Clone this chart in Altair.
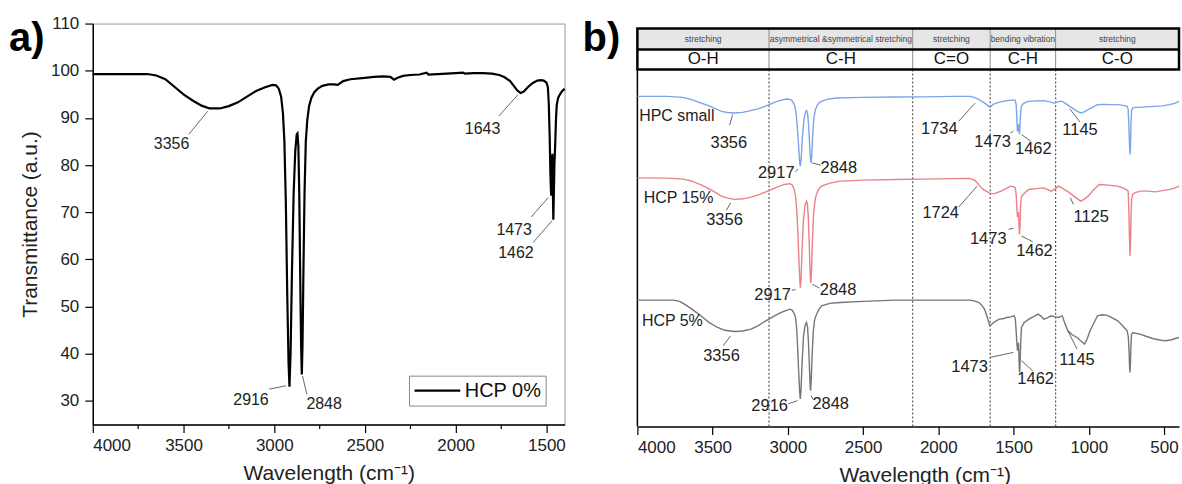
import altair as alt
import pandas as pd

FONT = "Liberation Sans"

# ---------------- Panel a: HCP 0% ----------------
a_wn = [4000, 3900, 3800, 3700, 3650, 3600, 3550, 3500, 3450, 3400, 3356, 3300, 3250, 3200,
        3150, 3100, 3050, 3010, 2990, 2975, 2962, 2952, 2944, 2936, 2928, 2921, 2916, 2910,
        2902, 2893, 2884, 2876, 2872, 2867, 2862, 2857, 2852, 2848, 2844, 2839, 2833, 2826,
        2818, 2808, 2795, 2780, 2760, 2735, 2700, 2670, 2650, 2620, 2580, 2500, 2450, 2400,
        2360, 2340, 2320, 2290, 2250, 2200, 2160, 2150, 2100, 2000, 1960, 1950, 1900, 1850,
        1800, 1760, 1730, 1700, 1680, 1660, 1643, 1625, 1600, 1575, 1550, 1530, 1515, 1500,
        1492, 1487, 1482, 1478, 1475, 1473, 1470, 1467, 1465, 1462, 1459, 1456, 1452, 1447,
        1443, 1435, 1425, 1415, 1400]
a_tr = [99.3, 99.3, 99.3, 99.3, 99.0, 98.2, 96.6, 95.0, 93.7, 92.6, 92.0, 92.0, 92.5, 93.3,
        94.5, 95.7, 96.5, 97.0, 96.9, 96.2, 94.5, 91.0, 85.0, 72.0, 52.0, 38.0, 33.0, 40.0,
        58.0, 74.0, 83.0, 86.5, 86.7, 84.0, 74.0, 57.0, 42.0, 35.6, 42.0, 58.0, 74.0, 85.0,
        89.5, 92.5, 94.3, 95.4, 96.2, 96.8, 97.1, 97.1, 97.0, 97.8, 98.2, 98.5, 98.7, 98.8,
        98.7, 98.1, 98.5, 98.9, 99.1, 99.2, 99.6, 99.2, 99.3, 99.5, 99.6, 99.4, 99.5, 99.5,
        99.4, 99.1, 98.6, 97.8, 96.8, 95.8, 95.3, 95.6, 96.6, 97.4, 97.9, 98.0, 97.9, 97.5,
        96.5, 93.0, 86.0, 78.0, 74.5, 73.5, 79.0, 82.4, 76.0, 68.4, 74.0, 80.0, 84.0, 90.0,
        92.8, 94.3, 95.0, 95.6, 96.2]

a_labels = ["3356", "2916", "2848", "1643", "1473", "1462"]
a_label_wn = [3566, 3128, 2725, 1852, 1678, 1668]
a_label_tr = [84.4, 30.3, 29.3, 87.7, 66.2, 61.3]
a_lead_wn1 = [3367, 2936, 2844, 1657, 1490, 1469]
a_lead_tr1 = [91.4, 33.2, 35.3, 94.9, 73.1, 68.2]
a_lead_wn2 = [3471, 3028, 2820, 1762, 1584, 1573]
a_lead_tr2 = [86.5, 32.5, 31.4, 90.4, 69.0, 63.6]

# ---------------- Panel b: three spectra (arbitrary offset units) ----------------
hpc_wn = [4000, 3800, 3700, 3638, 3580, 3515, 3441, 3400, 3356, 3300, 3269, 3200, 3170, 3120,
          3072, 3010, 2985, 2970, 2955, 2945, 2937, 2928, 2920, 2917, 2912, 2903, 2893, 2882,
          2875, 2868, 2861, 2855, 2850, 2846, 2841, 2835, 2827, 2818, 2805, 2790, 2776, 2740,
          2678, 2500, 2284, 2100, 1900, 1792, 1760, 1742, 1720, 1700, 1680, 1665, 1656, 1645,
          1632, 1600, 1545, 1500, 1488, 1482, 1477, 1474, 1472, 1468, 1465, 1462, 1458, 1454,
          1449, 1440, 1420, 1398, 1350, 1299, 1260, 1230, 1213, 1190, 1176, 1150, 1127, 1100,
          1075, 1053, 1030, 1004, 975, 942, 900, 850, 807, 770, 745, 738, 734, 731, 728, 725,
          722, 719, 715, 708, 690, 659, 620, 561, 510, 462, 430, 400]
hpc_val = [331, 331, 330, 327.7, 324.5, 321, 316, 314.8, 314.3, 315, 316, 318.5, 320, 323,
           326, 328.3, 328, 326.5, 322, 314, 300, 280, 263, 261, 268, 290, 308, 315.5,
           316.7, 313, 300, 282, 268, 264.3, 272, 292, 309, 317, 322, 325, 326, 328,
           329.3, 330, 330.3, 330.5, 331, 331, 330, 328.7, 327, 325, 323, 321, 320, 321.5,
           323.3, 325, 326.7, 327.5, 327, 322, 305, 296, 298, 303, 300, 293, 298, 312,
           320.5, 323, 325, 326, 326.5, 326.7, 325.5, 324.3, 325, 326, 326, 323.5, 321, 318.5,
           316, 314.3, 315.5, 317.7, 320, 322.7, 323, 322.7, 322.7, 322, 321, 318, 305, 290, 280, 272.7,
           282, 305, 317, 319.3, 320, 320, 320.5, 321, 321.5, 322.7, 324, 326]

h15_wn = [4000, 3800, 3700, 3638, 3580, 3515, 3441, 3400, 3355, 3300, 3244, 3200, 3146, 3080,
          3023, 2985, 2970, 2958, 2948, 2940, 2932, 2925, 2919, 2917, 2913, 2906, 2897, 2886,
          2876, 2870, 2864, 2858, 2853, 2849, 2847, 2843, 2837, 2829, 2820, 2810, 2795, 2776,
          2720, 2653, 2500, 2284, 2100, 1900, 1792, 1760, 1742, 1720, 1700, 1681, 1660, 1632,
          1610, 1582, 1550, 1521, 1500, 1488, 1482, 1478, 1474, 1471, 1467, 1464, 1461, 1457,
          1453, 1448, 1435, 1420, 1398, 1350, 1299, 1250, 1225, 1201, 1170, 1127, 1090, 1053,
          1030, 1004, 970, 930, 870, 807, 770, 745, 738, 733, 730, 727, 726, 722, 719, 715,
          708, 690, 659, 600, 561, 510, 462, 430, 400]
h15_val = [249.3, 249, 248, 246, 242.5, 237.7, 231, 229, 227.7, 228.3, 230, 232, 235.3, 239.5,
           242.7, 243.5, 242, 238, 230, 215, 190, 162, 143, 139.3, 146, 175, 205, 222,
           226, 223, 210, 185, 160, 145, 144.3, 155, 185, 213, 226, 233, 238, 241,
           244, 246, 247, 247.7, 248, 248.5, 248.7, 247, 244.3, 240.5, 237.5, 236, 234, 233.3,
           234.5, 236, 238.5, 241, 240.5, 239.3, 232, 220, 210, 212, 215, 205, 192.7, 200,
           220, 230, 232.7, 235, 237.7, 238.5, 239.3, 236, 238, 241, 238.5, 234.3, 230, 226,
           228, 231, 237, 242.7, 242, 241, 239, 237, 236, 215, 195, 178, 171, 185, 210, 228,
           232.7, 234.5, 236, 236, 235.3, 236.5, 237.7, 239, 241]

h5_wn = [4000, 3800, 3761, 3720, 3687, 3640, 3600, 3564, 3520, 3466, 3420, 3355, 3300, 3244,
         3200, 3146, 3100, 3047, 3010, 2986, 2970, 2960, 2950, 2942, 2935, 2928, 2921, 2917,
         2912, 2905, 2896, 2886, 2876, 2869, 2863, 2857, 2852, 2849, 2845, 2839, 2831, 2822,
         2813, 2795, 2776, 2720, 2653, 2500, 2284, 2000, 1792, 1760, 1730, 1710, 1693, 1675,
         1662, 1656, 1645, 1632, 1615, 1595, 1570, 1545, 1520, 1496, 1488, 1482, 1477, 1473,
         1470, 1467, 1464, 1461, 1459, 1456, 1452, 1447, 1430, 1398, 1370, 1336, 1315, 1299,
         1275, 1250, 1225, 1201, 1186, 1176, 1160, 1139, 1110, 1078, 1050, 1028, 1010, 991,
         965, 942, 910, 880, 850, 807, 775, 745, 737, 732, 729, 726, 723, 720, 716, 708,
         690, 659, 620, 580, 561, 520, 487, 450, 420, 400]
h5_val = [126.7, 126.7, 126.7, 125.5, 122.7, 118, 113.5, 109.3, 104, 99.3, 96.5, 95.3, 95.8, 97.7,
          101, 106, 110, 114.3, 116.5, 117.7, 116.5, 114, 110, 100, 80, 55, 34, 27.7,
          38, 65, 90, 101, 104.3, 100, 85, 62, 42, 36, 45, 70, 95, 107,
          111, 117, 121, 123.5, 124.3, 125.5, 126.7, 126.7, 126.7, 126, 124.3, 121.5, 117.7, 110,
          103, 101, 102.5, 104.3, 106, 107.7, 108, 109.3, 110, 111, 108, 95, 82, 76,
          80, 84, 72, 56, 54.3, 65, 85, 99.3, 104, 107.7, 110, 112.7, 110.5, 107.7,
          109, 111, 110, 109.3, 110.5, 111, 104, 96, 92, 89.3, 85.5, 82.7, 88, 96,
          104, 111, 112, 111.7, 109.5, 106, 101, 96, 90, 75, 62, 54.3, 62, 80, 92, 94.3,
          93.5, 92.7, 90.5, 88.5, 87.7, 86.5, 86, 87, 88.5, 89.3]

series_names = ["HPC small", "HCP 15%", "HCP 5%"]
series_colors = ["#7aa5e8", "#ea8088", "#767676"]

b_names = ["HPC small", "HCP 15%", "HCP 5%"]
b_name_wn = [3988, 3958, 3970]
b_name_val = [311, 229.3, 105.3]

b_labels = ["3356", "2917", "2848", "1734", "1473", "1462", "1145",
            "3356", "2917", "2848", "1724", "1473", "1462", "1125",
            "3356", "2916", "2848", "1473", "1462", "1145"]
b_label_wn = [3392, 3077, 2661, 1993, 1639, 1368, 1058,
              3421, 3101, 2666, 1984, 1668, 1361, 984,
              3441, 3121, 2715, 1792, 1353, 1078]
b_label_val = [284.3, 254.3, 259.3, 298.3, 285.3, 278.3, 297,
               207, 132, 136.7, 213.7, 187.7, 176, 210,
               71, 21, 22.7, 59.3, 47.7, 67]
b_lead_wn1 = [3367, 2931, 2838, 1755, 1521, 1447, 1127,
              3380, 2973, 2838, 1742, 1533, 1447, 1122,
              3380, 2998, 2845, 1656, 1447, 1139]
b_lead_val1 = [312.7, 258.3, 264.3, 324.3, 294.3, 292.7, 318.7,
               224.3, 136.7, 142.7, 241, 197.7, 191, 229.3,
               91, 22.7, 31, 69.3, 66, 96]
b_lead_wn2 = [3387, 2949, 2781, 1865, 1501, 1385, 1058,
              3409, 2949, 2789, 1865, 1501, 1373, 1102,
              3429, 2936, 2831, 1501, 1373, 1078]
b_lead_val2 = [302, 255.3, 262, 306, 296, 286, 305.3,
               216.7, 137.3, 138.7, 220, 198.7, 185.3, 222.7,
               81, 26, 27, 74.3, 56, 77.7]

# header table
band_edges = [4000, 3125, 2170, 1655, 1220, 400]
band_modes = ["stretching", "asymmetrical &symmetrical stretching", "stretching",
              "bending vibration", "stretching"]
band_groups = ["O-H", "C-H", "C=O", "C-H", "C-O"]
header_levels = [358, 378, 399]   # bottom, divider, top (offset units)

# ---------------- frames ----------------
a_df = pd.DataFrame({"wn": a_wn, "tr": a_tr, "series": "HCP 0%"})
a_lab = pd.DataFrame({"wn": a_label_wn, "tr": a_label_tr, "text": a_labels})
a_lead = pd.DataFrame({"wn": a_lead_wn1, "tr": a_lead_tr1, "wn2": a_lead_wn2, "tr2": a_lead_tr2})

xa = alt.Scale(domain=[4000, 1400], nice=False, zero=False)
ya = alt.Scale(domain=[25, 110], nice=False, zero=False)

tick_cond_x = {"condition": {"test": "datum.value % 500 === 0", "value": 8}, "value": 4}
tick_cond_y = {"condition": {"test": "datum.value % 10 === 0", "value": 8}, "value": 4}

ax_a_x = alt.Axis(values=list(range(4000, 1399, -250)), format="d",
                  labelExpr="datum.value % 500 === 0 ? datum.label : ''",
                  tickSize=tick_cond_x, labelFontSize=17, labelPadding=5,
                  title="Wavelength (cm⁻¹)", titleFontSize=21, titleFontWeight="normal",
                  titleY=55, titleBaseline="alphabetic",
                  domainColor="black", domainWidth=1.5, tickColor="black", tickWidth=1.2,
                  labelColor="#222", titleColor="#222")
ax_a_y = alt.Axis(values=list(range(30, 111, 5)),
                  labelExpr="datum.value % 10 === 0 ? datum.label : ''",
                  tickSize=tick_cond_y, labelFontSize=17, labelPadding=6,
                  title="Transmittance (a.u.)", titleFontSize=21, titleFontWeight="normal",
                  titleX=-62, titleBaseline="middle",
                  domainColor="black", domainWidth=1.5, tickColor="black", tickWidth=1.2,
                  labelColor="#222", titleColor="#222")

a_line = alt.Chart(a_df).mark_line(strokeWidth=2.2).encode(
    x=alt.X("wn:Q", scale=xa, axis=ax_a_x),
    y=alt.Y("tr:Q", scale=ya, axis=ax_a_y),
    color=alt.Color("series:N", scale=alt.Scale(domain=["HCP 0%"], range=["black"]),
                    legend=alt.Legend(orient="none", legendX=317, legendY=353, title=None,
                                      symbolType="stroke", symbolSize=2100, symbolStrokeWidth=2.2,
                                      clipHeight=22, labelFontSize=20, labelColor="#111",
                                      strokeColor="#888", padding=4, labelOffset=3)),
)
a_leads = alt.Chart(a_lead).mark_rule(color="#555", strokeWidth=0.9).encode(
    x="wn:Q", y="tr:Q", x2="wn2:Q", y2="tr2:Q")
a_texts = alt.Chart(a_lab).mark_text(fontSize=16, color="#222", font=FONT).encode(
    x="wn:Q", y="tr:Q", text="text:N")
a_tag = alt.Chart(pd.DataFrame({"t": ["a)"]})).mark_text(
    fontSize=40, fontWeight="bold", align="left", baseline="alphabetic", color="black",
    font=FONT).encode(x=alt.value(-84), y=alt.value(28), text="t:N")

panel_a = alt.layer(a_line, a_leads, a_texts, a_tag).properties(
    width=473, height=402, view=alt.ViewBackground(stroke="#9a9a9a", strokeWidth=1))

# panel b
b_rows = []
for name, wn, val in [("HPC small", hpc_wn, hpc_val), ("HCP 15%", h15_wn, h15_val),
                      ("HCP 5%", h5_wn, h5_val)]:
    for w, v in zip(wn, val):
        b_rows.append({"wn": w, "val": v, "sample": name})
b_df = pd.DataFrame(b_rows)
b_lab = pd.DataFrame({"wn": b_label_wn, "val": b_label_val, "text": b_labels})
b_lead = pd.DataFrame({"wn": b_lead_wn1, "val": b_lead_val1, "wn2": b_lead_wn2, "val2": b_lead_val2})
b_nm = pd.DataFrame({"wn": b_name_wn, "val": b_name_val, "text": b_names})

cells = pd.DataFrame({
    "x1": band_edges[:-1], "x2": band_edges[1:],
    "mode": band_modes, "group": band_groups,
})
cells["xm"] = (cells["x1"] + cells["x2"]) / 2
cells["y0"] = header_levels[0]
cells["y1"] = header_levels[1]
cells["y2"] = header_levels[2]
cells["ym_top"] = (header_levels[1] + header_levels[2]) / 2
cells["ym_bot"] = (header_levels[0] + header_levels[1]) / 2
inner = pd.DataFrame({"x": band_edges[1:-1], "y0": header_levels[0], "y2": header_levels[2],
                      "ybase": 0})
frame = pd.DataFrame({"x1": [band_edges[0]], "x2": [band_edges[-1]], "y0": [header_levels[0]],
                      "y1": [header_levels[1]], "y2": [header_levels[2]], "ybase": [0]})

xb = alt.Scale(domain=[4000, 400], nice=False, zero=False)
yb = alt.Scale(domain=[0, 404], nice=False, zero=False)

ax_b_x = alt.Axis(values=list(range(4000, 499, -250)), format="d",
                  labelExpr="datum.value % 500 === 0 ? datum.label : ''",
                  tickSize=tick_cond_x, labelFontSize=17, labelPadding=5,
                  title="Wavelength (cm⁻¹)", titleFontSize=21, titleFontWeight="normal",
                  titleY=55, titleBaseline="alphabetic", titleX=288,
                  domainColor="black", domainWidth=1.5, tickColor="black", tickWidth=1.2,
                  labelColor="#222", titleColor="#222")

hdr_bg = alt.Chart(cells).mark_rect(fill="#e6e6e6", stroke=None).encode(
    x=alt.X("x1:Q", scale=xb, axis=ax_b_x), x2="x2:Q",
    y=alt.Y("y1:Q", scale=yb, axis=None), y2="y2:Q")
hdr_div = alt.Chart(inner).mark_rule(color="#8c8c8c", strokeWidth=1).encode(
    x="x:Q", y="y0:Q", y2="y2:Q")
dotted = alt.Chart(inner).mark_rule(color="#555", strokeWidth=1.2, strokeDash=[2, 2]).encode(
    x="x:Q", y="ybase:Q", y2="y0:Q")
hdr_frame = alt.Chart(frame).mark_rect(fill=None, stroke="black", strokeWidth=2.5).encode(
    x="x1:Q", x2="x2:Q", y="y0:Q", y2="y2:Q")
hdr_mid = alt.Chart(frame).mark_rule(color="black", strokeWidth=2.5).encode(
    x="x1:Q", x2="x2:Q", y="y1:Q")
left_line = alt.Chart(frame).mark_rule(color="black", strokeWidth=1.5).encode(
    x="x1:Q", y="ybase:Q", y2="y0:Q")
mode_txt = alt.Chart(cells).mark_text(fontSize=8.5, color="#444", font=FONT).encode(
    x="xm:Q", y="ym_top:Q", text="mode:N")
group_txt = alt.Chart(cells).mark_text(fontSize=17, color="#111", font=FONT).encode(
    x="xm:Q", y="ym_bot:Q", text="group:N")

b_lines = alt.Chart(b_df).mark_line(strokeWidth=1.4).encode(
    x="wn:Q", y="val:Q",
    stroke=alt.Stroke("sample:N", scale=alt.Scale(domain=series_names, range=series_colors),
                      legend=None),
    detail="sample:N")
b_leads = alt.Chart(b_lead).mark_rule(color="#555", strokeWidth=0.9).encode(
    x="wn:Q", y="val:Q", x2="wn2:Q", y2="val2:Q")
b_texts = alt.Chart(b_lab).mark_text(fontSize=16.5, color="#222", font=FONT).encode(
    x="wn:Q", y="val:Q", text="text:N")
b_names_t = alt.Chart(b_nm).mark_text(fontSize=16, color="#222", align="left", font=FONT).encode(
    x="wn:Q", y="val:Q", text="text:N")
b_tag = alt.Chart(pd.DataFrame({"t": ["b)"]})).mark_text(
    fontSize=40, fontWeight="bold", align="left", baseline="alphabetic", color="black",
    font=FONT).encode(x=alt.value(-55), y=alt.value(28), text="t:N")

panel_b = alt.layer(hdr_bg, hdr_div, dotted, left_line, b_lines, b_leads, b_texts, b_names_t,
                    hdr_frame, hdr_mid, mode_txt, group_txt, b_tag).properties(
    width=543, height=404, view=alt.ViewBackground(stroke=None))

chart = alt.hconcat(panel_a, panel_b, spacing=73, bounds="flush").resolve_scale(
    color="independent", stroke="independent", x="independent", y="independent"
).properties(
    padding={"left": 8, "top": 13, "right": 0, "bottom": 0}
).configure(font=FONT).configure_axis(grid=False, labelFont=FONT, titleFont=FONT)

chart.save("out.html", embed_options={"renderer": "svg", "actions": False})
